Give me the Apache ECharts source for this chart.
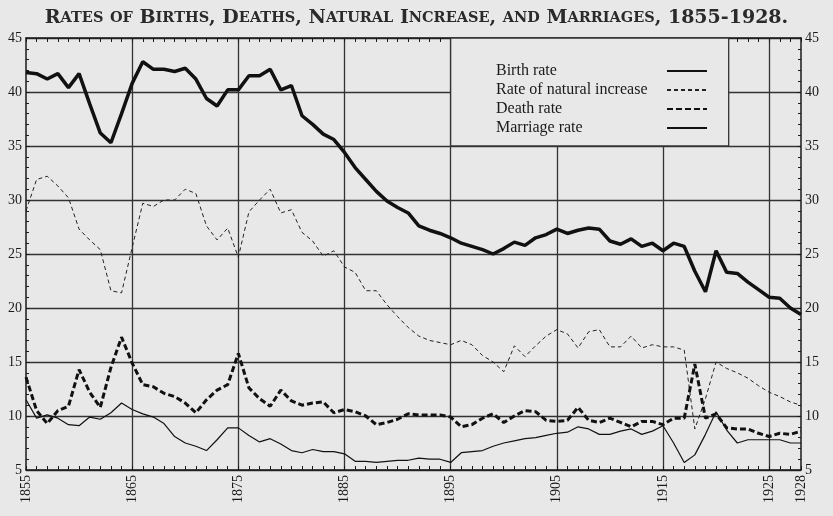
<!DOCTYPE html>
<html><head><meta charset="utf-8">
<script src="https://cdn.jsdelivr.net/npm/echarts@6/dist/echarts.min.js"></script>
<style>html,body{margin:0;padding:0;background:#e8e8e8}#c{width:833px;height:516px}</style>
</head><body><div id="c"></div>
<script>
const titleText = "Rates of Births, Deaths, Natural Increase, and Marriages, 1855-1928.";
const years = [];
for (let y = 1855; y <= 1928; y++) years.push(String(y));
const labelYears = ["1855","1865","1875","1885","1895","1905","1915","1925","1928"];
const gridYears = ["1865","1875","1885","1895","1905","1915","1925"];
const yTicks = [5,10,15,20,25,30,35,40,45];

const birthRate = [
41.8,41.7,41.2,41.7,40.4,41.7,38.9,36.2,35.3,38.0,
40.8,42.8,42.1,42.1,41.9,42.2,41.2,39.4,38.7,40.2,
40.2,41.5,41.5,42.1,40.2,40.6,37.8,37.0,36.1,35.6,
34.4,33.0,31.9,30.8,29.9,29.3,28.8,27.6,27.2,26.9,
26.5,26.0,25.7,25.4,25.0,25.5,26.1,25.8,26.5,26.8,
27.3,26.9,27.2,27.4,27.3,26.2,25.9,26.4,25.7,26.0,
25.3,26.0,25.7,23.4,21.5,25.3,23.3,23.2,22.4,21.7,
21.0,20.9,20.0,19.4];
const naturalIncrease = [
29.0,31.9,32.2,31.3,30.2,27.3,26.3,25.4,21.6,21.4,
25.6,29.7,29.4,30.0,30.0,31.0,30.6,27.6,26.3,27.4,
24.7,28.9,30.0,31.0,28.8,29.1,27.0,26.2,24.8,25.3,
23.8,23.3,21.6,21.6,20.3,19.2,18.2,17.4,17.0,16.8,
16.6,17.0,16.6,15.6,15.0,14.1,16.5,15.5,16.5,17.4,
18.0,17.6,16.3,17.8,18.0,16.4,16.4,17.4,16.3,16.6,
16.4,16.4,16.1,8.8,11.6,15.0,14.4,14.0,13.5,12.8,
12.2,11.8,11.3,11.0];
const deathRate = [
13.6,10.5,9.3,10.5,10.9,14.3,12.2,10.8,14.5,17.3,
14.9,12.9,12.7,12.1,11.8,11.2,10.3,11.5,12.4,12.9,
15.8,12.6,11.6,10.9,12.4,11.4,11.0,11.2,11.3,10.3,
10.6,10.4,10.0,9.2,9.4,9.7,10.2,10.1,10.1,10.1,
9.9,9.0,9.2,9.8,10.2,9.4,10.0,10.5,10.4,9.6,
9.5,9.6,10.8,9.6,9.4,9.8,9.4,9.0,9.5,9.5,
9.2,9.8,9.8,14.8,9.8,10.2,8.9,8.8,8.8,8.4,
8.1,8.4,8.3,8.6];
const marriageRate = [
11.5,9.8,10.1,9.8,9.2,9.1,9.9,9.7,10.3,11.2,
10.6,10.2,9.9,9.3,8.1,7.5,7.2,6.8,7.8,8.9,
8.9,8.2,7.6,7.9,7.4,6.8,6.6,6.9,6.7,6.7,
6.5,5.8,5.8,5.7,5.8,5.9,5.9,6.1,6.0,6.0,
5.7,6.6,6.7,6.8,7.2,7.5,7.7,7.9,8.0,8.2,
8.4,8.5,9.0,8.8,8.3,8.3,8.6,8.8,8.3,8.6,
9.1,7.5,5.7,6.4,8.3,10.4,8.7,7.5,7.8,7.8,
7.8,7.8,7.5,7.5];

const FONT = "'Liberation Serif','DejaVu Serif',serif";
const WFONT = "'DejaVu Serif','Liberation Serif',serif";
const INK = '#1a1a1a';
const BG = '#e8e8e8';

function smallCaps(s){
  let out='', cur=null, buf='';
  for (const ch of s){
    const st = (ch !== ch.toUpperCase()) ? 'b' : 'a';
    if (st !== cur){ if (buf) out += '{'+cur+'|'+buf+'}'; buf=''; cur=st; }
    buf += ch.toUpperCase();
  }
  if (buf) out += '{'+cur+'|'+buf+'}';
  return out;
}

const chart = echarts.init(document.getElementById('c'));
const yAxisBase = {
  type:'value', min:5, max:45, interval:5,
  axisLine:{show:true, lineStyle:{color:INK, width:1.5}},
  axisTick:{show:true, inside:true, length:4, lineStyle:{color:INK, width:1}},
  minorTick:{show:true, splitNumber:5, length:3, lineStyle:{color:INK, width:1}},
  axisLabel:{fontFamily:FONT, fontSize:14, color:INK, margin:4}
};
const option = {
  backgroundColor: BG,
  animation:false,
  title:{
    text: smallCaps(titleText), left:'center', top:4,
    textStyle:{rich:{
      a:{fontFamily:WFONT, fontSize:19, color:'#2a2a2a'},
      b:{fontFamily:WFONT, fontSize:14.5, color:'#2a2a2a'}
    }}
  },
  grid:{left:26, right:32, top:38, bottom:46},
  legend:{
    orient:'vertical', left:491, top:58, align:'right',
    itemWidth:40, itemHeight:12, itemGap:3,
    itemStyle:{opacity:0},
    formatter: name => '{t|' + name + '}',
    textStyle:{rich:{t:{fontFamily:FONT, fontSize:16, color:INK, width:166, align:'left'}}},
    data:['Birth rate','Rate of natural increase','Death rate','Marriage rate']
  },
  xAxis:[{
    type:'category', data:years, boundaryGap:false, position:'bottom',
    axisLine:{lineStyle:{color:INK, width:1.5}},
    axisTick:{inside:true, length:4, interval:0, lineStyle:{color:INK}},
    axisLabel:{interval:(i,v)=>labelYears.includes(v), rotate:90, fontFamily:FONT, fontSize:14, color:INK, margin:5},
    splitLine:{show:true, interval:(i,v)=>gridYears.includes(v), lineStyle:{color:'#333', width:1.3}}
  },{
    type:'category', data:years, boundaryGap:false, position:'top',
    axisLine:{lineStyle:{color:INK, width:1.5}},
    axisTick:{inside:true, length:4, interval:0, lineStyle:{color:INK}},
    axisLabel:{show:false}, splitLine:{show:false}
  }],
  yAxis:[
    Object.assign({}, yAxisBase, {position:'left', splitLine:{show:true, lineStyle:{color:'#333', width:1.3}}}),
    Object.assign({}, yAxisBase, {position:'right', splitLine:{show:false}})
  ],
  series:[
    {name:'Birth rate', type:'line', data:birthRate, symbol:'none', z:5,
     lineStyle:{color:'#111', width:3.5, type:'solid'}, itemStyle:{color:'#111'}},
    {name:'Rate of natural increase', type:'line', data:naturalIncrease, symbol:'none', z:5,
     lineStyle:{color:'#222', width:1, type:[4,3]}, itemStyle:{color:'#222'}},
    {name:'Death rate', type:'line', data:deathRate, symbol:'none', z:5,
     lineStyle:{color:'#111', width:3, type:[6,3]}, itemStyle:{color:'#111'}},
    {name:'Marriage rate', type:'line', data:marriageRate, symbol:'none', z:5,
     lineStyle:{color:'#111', width:1.2, type:'solid'}, itemStyle:{color:'#111'}}
  ]
};
chart.setOption(option);
const px1 = chart.convertToPixel({xAxisIndex:0}, '1895');
const pxTop = chart.convertToPixel({yAxisIndex:0}, 45);
const pxBot = chart.convertToPixel({yAxisIndex:0}, 35);
const px2 = chart.convertToPixel({xAxisIndex:0}, '1921') + 2;
chart.setOption({graphic:[{
  type:'rect', z:1,
  shape:{x:px1, y:pxTop, width:px2-px1, height:pxBot-pxTop},
  style:{fill:BG, stroke:'#333', lineWidth:1.3}
}]});
</script></body></html>
